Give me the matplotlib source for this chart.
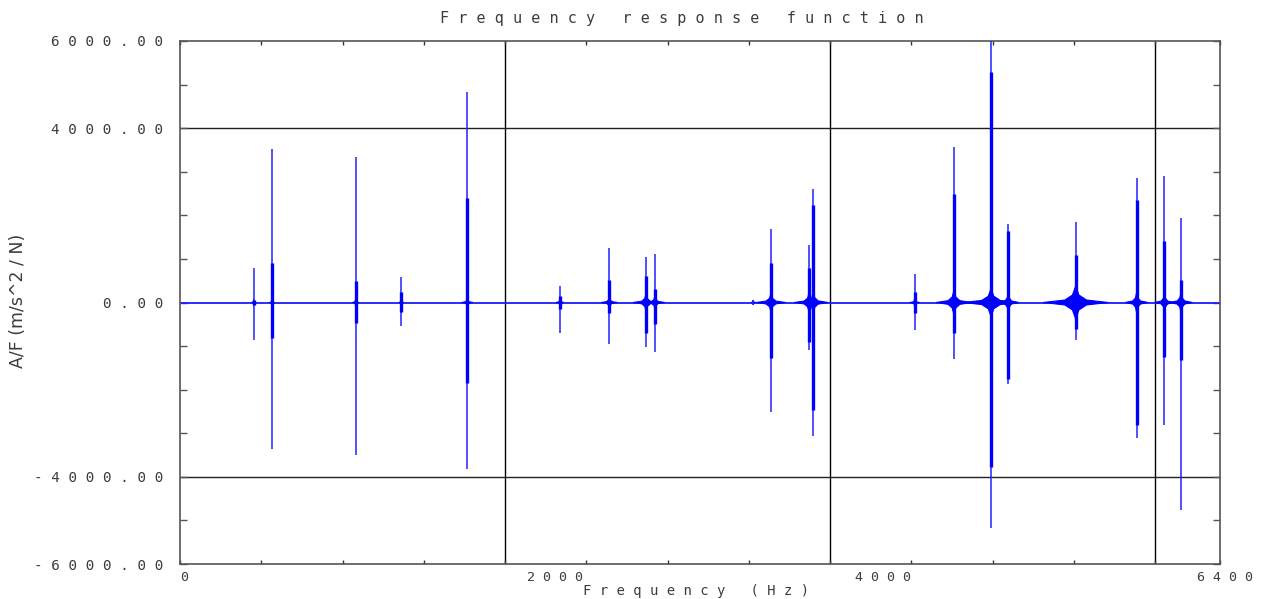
import numpy as np
import matplotlib
matplotlib.use("Agg")
import matplotlib.pyplot as plt
from matplotlib.ticker import MultipleLocator, FixedLocator
from matplotlib.transforms import ScaledTranslation

# resonance peaks (Hz, m/s^2/N)
peak_freq = [453, 566, 1081, 1362, 1768, 2338, 2642, 2868, 2923, 3528, 3637,
             3871, 3897, 4521, 4763, 4991, 5097, 5512, 5887, 6058, 6160]
peak_max = [800, 3520, 3340, 590, 4820, 380, 1240, 1040, 1110, 60, 1680,
            1320, 2600, 650, 3560, 6600, 1790, 1840, 2850, 2910, 1950]
peak_min = [-850, -3350, -3510, -530, -3810, -710, -960, -1010, -1130, -60, -2510,
            -1090, -3060, -620, -1300, -5180, -1860, -850, -3120, -2810, -4760]
# dense (overlapping curves) part of each peak
core_max = [60, 900, 490, 230, 2390, 150, 520, 600, 300, 0, 900,
            800, 2240, 250, 2500, 5300, 1650, 1100, 2350, 1400, 520]
core_min = [-60, -820, -460, -210, -1850, -150, -250, -700, -500, 0, -1280,
            -900, -2470, -250, -700, -3770, -1750, -600, -2810, -1240, -1320]
# spread of the curves around zero near each resonance
base_width = [12, 15, 20, 15, 35, 25, 50, 80, 60, 15, 90,
              90, 90, 30, 110, 170, 60, 200, 70, 60, 70]
base_amp = [70, 80, 90, 80, 110, 90, 130, 200, 160, 50, 220,
            220, 250, 90, 280, 320, 240, 380, 240, 220, 240]

freq_range = [0, 6400]
ytick_vals = [-6000, -4000, 0, 4000, 6000]
ytick_labels = ["- 6 0 0 0 . 0 0", "- 4 0 0 0 . 0 0", "0 . 0 0",
                "4 0 0 0 . 0 0", "6 0 0 0 . 0 0"]
xtick_vals = [0, 2000, 4000, 6400]
xtick_labels = ["0", "2 0 0 0", "4 0 0 0", "6 4 0 0"]

mono = "DejaVu Sans Mono"
txt_col = "#3c3c3c"

fig = plt.figure(figsize=(12.66, 5.99), dpi=100)
ax = fig.add_axes([180 / 1266, 1 - 564 / 599, 1040 / 1266, 523 / 599])

# grid
for gx in [2000, 4000, 6000]:
    ax.axvline(gx, color="black", lw=1.0, zorder=1)
for gy in [-4000, 4000]:
    ax.axhline(gy, color="#222222", lw=1.0, zorder=1)

# data
ax.hlines(0, freq_range[0], freq_range[1], color="#1a1aff", lw=1.3, zorder=2)
for f, w, a in zip(peak_freq, base_width, base_amp):
    # cusp shaped spread of the many curves around the resonance
    xs = [f - w, f - w / 3, f - w / 10, f, f + w / 10, f + w / 3, f + w,
          f + w / 3, f + w / 10, f, f - w / 10, f - w / 3]
    ys = [0, a * 0.15, a * 0.45, a, a * 0.45, a * 0.15, 0,
          -a * 0.15, -a * 0.45, -a, -a * 0.45, -a * 0.15]
    ax.fill(xs, ys, color="blue", lw=0.8, zorder=2)
ax.vlines(peak_freq, peak_min, peak_max, color="#2222ff", lw=1.1, zorder=3)
ax.vlines(peak_freq, core_min, core_max, color="blue", lw=2.4, zorder=3)

ax.set_xlim(freq_range)
ax.set_ylim(-6000, 6000)

ax.xaxis.set_major_locator(FixedLocator(xtick_vals))
ax.xaxis.set_minor_locator(MultipleLocator(500))
ax.yaxis.set_major_locator(FixedLocator(ytick_vals))
ax.yaxis.set_minor_locator(MultipleLocator(1000))
ax.set_xticklabels(xtick_labels, family=mono, fontsize=9.5, color=txt_col)
ax.set_yticklabels(ytick_labels, family=mono, fontsize=10.3, color=txt_col)

ax.tick_params(axis="x", which="both", direction="in", top=True, length=3,
               width=1, color="#333333", pad=5)
ax.tick_params(axis="y", which="both", direction="in", right=True, length=5,
               width=1, color="#555555", pad=12)

# the old plotter places the x labels a little to the right of the ticks
offsets = [(0, "left"), (22, "left"), (25, "left"), (5, "center")]
for lab, (dx, ha) in zip(ax.get_xticklabels(), offsets):
    lab.set_ha(ha)
    lab.set_transform(lab.get_transform() + ScaledTranslation(dx / 100, 0, fig.dpi_scale_trans))

for s in ax.spines.values():
    s.set_color("#555555")
    s.set_linewidth(1.2)

fig.text(682 / 1266, 1 - 18 / 599, "F r e q u e n c y   r e s p o n s e   f u n c t i o n",
         family=mono, fontsize=10.9, color=txt_col, ha="center", va="center")
fig.text(696 / 1266, 1 - 591 / 599, "F r e q u e n c y   ( H z )",
         family=mono, fontsize=10, color=txt_col, ha="center", va="center")
fig.text(18 / 1266, 1 - 301 / 599, "A/F (m/s^2 / N)", fontsize=12.5,
         color=txt_col, ha="center", va="center", rotation=90)

fig.savefig("out.png", dpi=100)
